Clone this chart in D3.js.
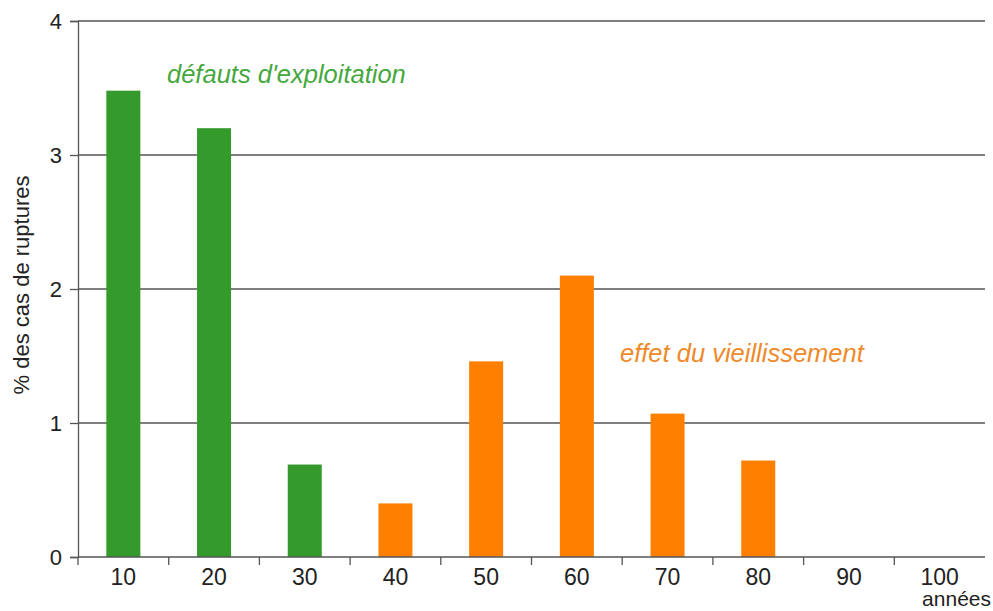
<!DOCTYPE html>
<html><head><meta charset="utf-8">
<script src="https://cdn.jsdelivr.net/npm/d3@7"></script>
<style>body{margin:0;background:#fff;} text{font-family:"Liberation Sans",Arial,sans-serif;}</style>
</head><body>
<svg id="c" width="993" height="611"></svg>
<script>
const categories = ["10","20","30","40","50","60","70","80","90","100"];
const values = [3.48, 3.2, 0.69, 0.4, 1.46, 2.1, 1.07, 0.72, 0, 0];
const groups = ["exploit","exploit","exploit","age","age","age","age","age","age","age"];
const yTicks = [0,1,2,3,4];
const colors = {exploit:"#339a2b", age:"#ff8000"};

const svg = d3.select("#c");
const x0 = 78, x1 = 985, yTop = 21, yBot = 557;
const x = d3.scaleBand().domain(categories).range([x0, x1]).paddingInner(0.625).paddingOuter(0.3125);
const xb = d3.scaleBand().domain(categories).range([x0, x1]);
const y = d3.scaleLinear().domain([0,4]).range([yBot, yTop]);

// gridlines
svg.append("g").selectAll("line").data(yTicks.filter(d=>d>0)).join("line")
  .attr("x1", x0).attr("x2", x1).attr("y1", d=>y(d)).attr("y2", d=>y(d))
  .attr("stroke", "#555").attr("stroke-width", 1.3);

// bars
svg.append("g").selectAll("rect").data(categories).join("rect")
  .attr("x", d=>x(d)).attr("width", x.bandwidth())
  .attr("y", (d,i)=>y(values[i])).attr("height", (d,i)=>yBot - y(values[i]))
  .attr("fill", (d,i)=>colors[groups[i]]);

// y axis
const ya = svg.append("g").attr("transform", `translate(${x0},0)`)
  .call(d3.axisLeft(y).tickValues(yTicks).tickSize(8).tickPadding(8).tickFormat(d3.format("d")));
ya.select(".domain").attr("stroke", "#555").attr("stroke-width", 1.3);
ya.selectAll(".tick line").attr("stroke", "#555").attr("stroke-width", 1.3);
ya.selectAll(".tick text").attr("font-size", 22).attr("fill", "#222").attr("font-family", "Liberation Sans, Arial, sans-serif");

// x axis line
svg.append("line").attr("x1", x0).attr("x2", x1).attr("y1", yBot).attr("y2", yBot)
  .attr("stroke", "#555").attr("stroke-width", 1.3);
// x ticks at band boundaries
svg.append("g").selectAll("line").data(categories).join("line")
  .attr("x1", d=>xb(d)).attr("x2", d=>xb(d)).attr("y1", yBot).attr("y2", yBot+8)
  .attr("stroke", "#555").attr("stroke-width", 1.3);
// x labels
svg.append("g").selectAll("text").data(categories).join("text")
  .attr("x", d=>xb(d)+xb.bandwidth()/2).attr("y", 585).attr("text-anchor","middle")
  .attr("font-size", 23).attr("fill", "#222").text(d=>d);

svg.append("text").attr("x", 991).attr("y", 606).attr("text-anchor","end")
  .attr("font-size", 21).attr("fill", "#222").text("années");

svg.append("text").attr("transform", `translate(29,285) rotate(-90)`).attr("text-anchor","middle")
  .attr("font-size", 22).attr("fill", "#222").text("% des cas de ruptures");

svg.append("text").attr("x", 167).attr("y", 83).attr("font-size", 25.5).attr("font-style","italic")
  .attr("fill", "#45a83e").text("défauts d'exploitation");
svg.append("text").attr("x", 620).attr("y", 362).attr("font-size", 25.5).attr("font-style","italic")
  .attr("fill", "#ee8a2a").text("effet du vieillissement");
</script>
</body></html>
